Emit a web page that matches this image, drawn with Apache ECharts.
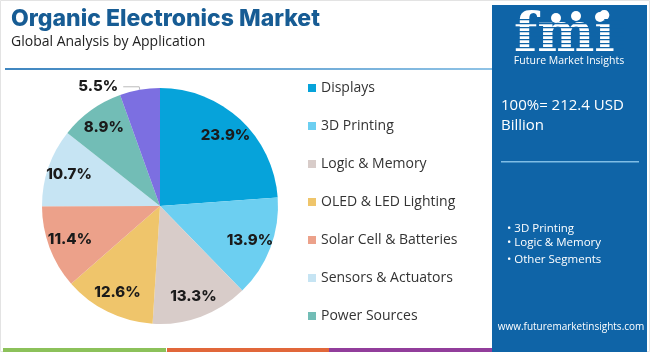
<!DOCTYPE html>
<html><head><meta charset="utf-8">
<script src="https://cdn.jsdelivr.net/npm/echarts@6/dist/echarts.min.js"></script>
<style>html,body{margin:0;padding:0;background:#fff}#c{width:650px;height:352px}</style>
</head><body><div id="c"></div>
<script>
const categories = ['Displays','3D Printing','Logic & Memory','OLED & LED Lighting','Solar Cell & Batteries','Sensors & Actuators','Power Sources','Others'];
const shares = [23.9, 13.9, 13.3, 12.6, 11.4, 10.7, 8.9, 5.5];
const legendNames = ['Displays','3D Printing','Logic & Memory','OLED & LED Lighting','Solar Cell & Batteries','Sensors & Actuators','Power Sources'];
const colors = ['#06a3da','#6ccff1','#d8ccc9','#efc56b','#eca18a','#c6e4f3','#72bdb6','#7c6fe1'];
const bullets = ['• 3D Printing','• Logic & Memory','• Other Segments'];

const chart = echarts.init(document.getElementById('c'), null, {renderer:'canvas'});
const FONT = 'Inter, "Open Sans", sans-serif';
const data = categories.map((n,i)=>({name:n, value:shares[i], itemStyle:{color:colors[i]}}));
const center = [160, 206];
const R = 118;

const panel = '#0f64a7';
const graphics = [
  {type:'rect', shape:{x:0.5,y:0.5,width:649,height:351}, style:{fill:'none', stroke:'#e3e3e3', lineWidth:1}, z:-1},
  {type:'rect', shape:{x:5,y:68,width:488,height:2}, style:{fill:new echarts.graphic.LinearGradient(0,0,1,0,[{offset:0,color:'#3f86c0'},{offset:1,color:'#8fc3e6'}])}},
  {type:'rect', shape:{x:3,y:348,width:163,height:4}, style:{fill:'#8cc15a'}},
  {type:'rect', shape:{x:167,y:348,width:162,height:4}, style:{fill:'#e1673a'}},
  {type:'rect', shape:{x:329,y:348,width:164,height:4}, style:{fill:'#923d9b'}},
  {type:'rect', shape:{x:492,y:5,width:155,height:347}, style:{fill:panel}},
  {type:'text', style:{x:514, y:37, text:'fmi', fill:'#fff', font:'bold 54px "DejaVu Serif", serif', verticalAlign:'middle'}},
];
for (let y=19; y<55; y+=4) graphics.push({type:'rect', shape:{x:512,y:y,width:112,height:1.2}, style:{fill:panel}});
graphics.push(
  {type:'circle', shape:{cx:556,cy:18,r:5}, style:{fill:'#fff'}},
  {type:'circle', shape:{cx:576,cy:16,r:5}, style:{fill:'#fff'}},
  {type:'circle', shape:{cx:600,cy:17,r:5}, style:{fill:'#fff'}},
  {type:'text', style:{x:569, y:61, text:'Future Market Insights', fill:'#fff', font:'10.5px "Open Sans", sans-serif', textAlign:'center', verticalAlign:'middle'}},
  {type:'text', style:{x:501, y:106, text:'100%= 212.4 USD', fill:'#fff', font:'15px "Open Sans", sans-serif', verticalAlign:'middle'}},
  {type:'text', style:{x:501, y:126, text:'Billion', fill:'#fff', font:'15px "Open Sans", sans-serif', verticalAlign:'middle'}},
  {type:'rect', shape:{x:501,y:161,width:138,height:1.5}, style:{fill:'#7fbde6'}},
  {type:'text', style:{x:571, y:327, text:'www.futuremarketinsights.com', fill:'#fff', font:'10px "Open Sans", sans-serif', textAlign:'center', verticalAlign:'middle'}}
);
bullets.forEach((b,i)=>graphics.push({type:'text', style:{x:507, y:[229,243,260][i], text:b, fill:'#fff', font:'11.5px "Open Sans", sans-serif', verticalAlign:'middle'}}));

chart.setOption({
  animation:false,
  title:{
    text:'Organic Electronics Market', left:6, top:3,
    textStyle:{fontFamily:FONT, fontSize:23, fontWeight:800, color:'#175c94'},
    subtext:'Global Analysis by Application', itemGap:4,
    subtextStyle:{fontFamily:'"Open Sans", sans-serif', fontSize:14, color:'#222'}
  },
  legend:{
    orient:'vertical', left:303, top:76, data:legendNames,
    icon:'rect', itemWidth:8, itemHeight:8, itemGap:24,
    textStyle:{fontFamily:'"Open Sans", sans-serif', fontSize:14, color:'#333', lineHeight:14}
  },
  graphic:graphics,
  series:[
    {
      type:'pie', center:center, radius:[0,R], startAngle:90, clockwise:true,
      data:data.map((d,i)=>Object.assign({}, d, i===7 ? {
        label:{show:true, position:'outside', fontFamily:FONT, fontSize:15, fontWeight:800, color:'#1a1a1a'},
        labelLine:{show:true, length:3, length2:16, lineStyle:{color:'#bbb', width:1}}
      } : {label:{show:false}, labelLine:{show:false}})),
      label:{formatter:(p)=>shares[p.dataIndex].toFixed(1)+'%'},
      emphasis:{disabled:true}, silent:true
    },
    {
      type:'pie', center:center, radius:[R*0.58,R], startAngle:90, clockwise:true,
      data:data.map((d,i)=>({name:d.name, value:d.value, itemStyle:{color:'rgba(0,0,0,0)'},
        label:{show:i!==7}})),
      label:{position:'inside', formatter:(p)=>shares[p.dataIndex].toFixed(1)+'%',
        fontFamily:FONT, fontSize:15, fontWeight:800, color:'#1a1a1a'},
      labelLine:{show:false}, emphasis:{disabled:true}, silent:true, legendHoverLink:false
    }
  ]
});
</script></body></html>
